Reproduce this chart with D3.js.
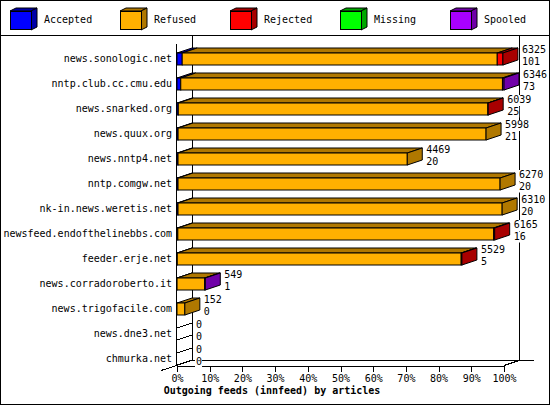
<!DOCTYPE html>
<html>
<head>
<meta charset="utf-8">
<script src="https://cdn.jsdelivr.net/npm/d3@7"></script>
<style>
  body { margin: 0; background: #fff; }
  text { font-family: "DejaVu Sans Mono", monospace; font-size: 10px; fill: #000; }
  .title { font-weight: bold; }
  line, path.edge { shape-rendering: crispEdges; }
</style>
</head>
<body>
<div id="content"></div>
<script>
// Chart size
const width = 550;
const height = 405;

// Data
const hosts = ["news.sonologic.net", "nntp.club.cc.cmu.edu", "news.snarked.org",
  "news.quux.org", "news.nntp4.net", "nntp.comgw.net", "nk-in.news.weretis.net",
  "newsfeed.endofthelinebbs.com", "feeder.erje.net", "news.corradoroberto.it",
  "news.trigofacile.com", "news.dne3.net", "chmurka.net"];
const accepted = [101, 73, 25, 21, 20, 20, 20, 16, 5, 1, 0, 0, 0];
const refused = [6114, 6243, 6009, 5977, 4449, 6250, 6290, 6129, 5510, 536, 152, 0, 0];
const rejected = [110, 0, 5, 0, 0, 0, 0, 20, 14, 0, 0, 0, 0];
const missing = [0, 0, 0, 0, 0, 0, 0, 0, 0, 0, 0, 0, 0];
const spooled = [0, 30, 0, 0, 0, 0, 0, 0, 0, 12, 0, 0, 0];
const percentTicks = [0, 0.1, 0.2, 0.3, 0.4, 0.5, 0.6, 0.7, 0.8, 0.9, 1];

const seriesNames = ["Accepted", "Refused", "Rejected", "Missing", "Spooled"];
const seriesData = [accepted, refused, rejected, missing, spooled];
const lightColors = ["#0000ff", "#ffb000", "#ff0000", "#00ff00", "#a800ff"];
const darkColors = ["#0000a8", "#b07800", "#a80000", "#00a800", "#7000a8"];

// 3D depth of the boxes
const dx = 15, dy = -5;

const svg = d3.select("#content")
  .append("svg")
  .attr("width", width)
  .attr("height", height);

// frame and header separator
svg.append("rect")
  .attr("x", 0.5).attr("y", 0.5)
  .attr("width", width - 1).attr("height", height - 1)
  .attr("fill", "#fff").attr("stroke", "#000");
svg.append("line")
  .attr("x1", 0).attr("x2", width).attr("y1", 35.5).attr("y2", 35.5)
  .attr("stroke", "#000");

// Legend
const legend = svg.append("g").selectAll("g")
  .data(seriesNames)
  .enter().append("g")
  .attr("transform", (d, i) => `translate(${10 + i * 110},0)`);

legend.append("polygon")
  .attr("points", "0,11 6,8 27,8 21,11")
  .attr("fill", (d, i) => darkColors[i]).attr("stroke", "#000");
legend.append("polygon")
  .attr("points", "21,11 27,8 27,27 21,30")
  .attr("fill", (d, i) => darkColors[i]).attr("stroke", "#000");
legend.append("rect")
  .attr("x", 0.5).attr("y", 11.5).attr("width", 21).attr("height", 18)
  .attr("fill", (d, i) => lightColors[i]).attr("stroke", "#000");
legend.append("text")
  .attr("x", 34).attr("y", 20)
  .attr("dominant-baseline", "middle")
  .text(d => d);

// Scales
const totals = hosts.map((h, i) => d3.sum(seriesData, s => s[i]));
const x = d3.scaleLinear().domain([0, d3.max(totals)]).range([177, 504]);
const xPct = d3.scaleLinear().domain([0, 1]).range([177, 504]);
const y = d3.scaleBand().domain(hosts).range([40, 365]);

// back walls and floor
const walls = svg.append("g").attr("stroke", "#000");
walls.append("line").attr("x1", 192.5).attr("x2", 192.5).attr("y1", 36).attr("y2", 360);
walls.append("line").attr("x1", 519.5).attr("x2", 519.5).attr("y1", 36).attr("y2", 360);
walls.append("line").attr("x1", 192).attr("x2", 534).attr("y1", 360.5).attr("y2", 360.5);
walls.append("line").attr("x1", 161).attr("x2", 192).attr("y1", 370.5).attr("y2", 360.5);
walls.append("line").attr("x1", 504).attr("x2", 519).attr("y1", 365.5).attr("y2", 360.5);
walls.append("line").attr("x1", 176.5).attr("x2", 176.5).attr("y1", 44).attr("y2", 365);

// x axis
const xAxis = svg.append("g")
  .attr("transform", "translate(0,365.5)")
  .call(d3.axisBottom(xPct).tickValues(percentTicks)
    .tickFormat(d3.format(".0%")).tickSize(6).tickSizeOuter(0));
xAxis.select(".domain").attr("class", "domain edge");
xAxis.selectAll(".tick line").attr("stroke", "#000");
xAxis.selectAll(".tick text")
  .attr("y", 9)
  .style("font-family", "DejaVu Sans Mono").style("font-size", "10px");

// Bars
const rows = svg.append("g").selectAll("g")
  .data(hosts)
  .enter().append("g");

rows.each(function (host, i) {
  const g = d3.select(this);
  const top = y(host) + 13;
  const bottom = top + 12;
  let cum = 0;
  let last = -1;
  seriesData.forEach((s, k) => {
    const v = s[i];
    if (v <= 0) return;
    const x0 = x(cum), x1 = x(cum + v);
    g.append("polygon")
      .attr("points", `${x0},${top} ${x0 + dx},${top + dy} ${x1 + dx},${top + dy} ${x1},${top}`)
      .attr("fill", darkColors[k]).attr("stroke", "#000");
    g.append("rect")
      .attr("x", x0).attr("y", top)
      .attr("width", x1 - x0).attr("height", bottom - top)
      .attr("fill", lightColors[k]).attr("stroke", "#000");
    cum += v;
    last = k;
  });
  const xe = x(cum);
  if (last >= 0) {
    g.append("polygon")
      .attr("points", `${xe},${top} ${xe + dx},${top + dy} ${xe + dx},${bottom + dy} ${xe},${bottom}`)
      .attr("fill", darkColors[last]).attr("stroke", "#000");
  } else {
    // empty row: only the edges of a flat box
    [top, bottom].forEach(yy => g.append("line")
      .attr("x1", xe).attr("y1", yy).attr("x2", xe + dx).attr("y2", yy + dy)
      .attr("stroke", "#000"));
  }

  // value labels: offered / accepted, each on a white patch
  const lx = xe + 19;
  [[totals[i], top - 3], [accepted[i], top + 8.5]].forEach(([v, ty]) => {
    const bg = g.append("rect").attr("fill", "#fff");
    const t = g.append("text")
      .attr("x", lx).attr("y", ty)
      .attr("dominant-baseline", "middle")
      .text(v);
    const w = t.node().getComputedTextLength();
    bg.attr("x", lx - 1).attr("y", ty - 5).attr("width", w + 1).attr("height", 11);
  });

  // host name
  g.append("text")
    .attr("x", 172).attr("y", top + 6)
    .attr("text-anchor", "end")
    .attr("dominant-baseline", "middle")
    .text(host);
});

// Title
svg.append("text")
  .attr("class", "title")
  .attr("x", 272).attr("y", 391)
  .attr("text-anchor", "middle")
  .attr("dominant-baseline", "middle")
  .text("Outgoing feeds (innfeed) by articles");
</script>
</body>
</html>
